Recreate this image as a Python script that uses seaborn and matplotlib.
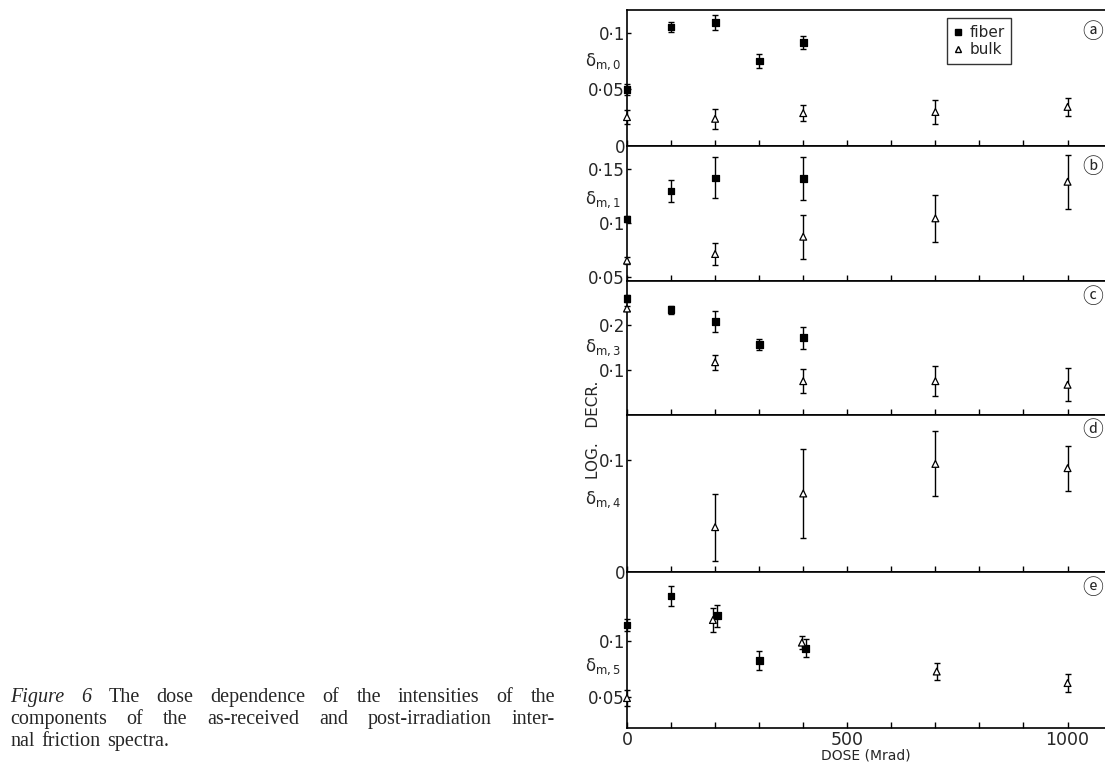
import numpy as np
import pandas as pd
import matplotlib
matplotlib.use("Agg")
import matplotlib.pyplot as plt
from matplotlib.ticker import FixedLocator, MultipleLocator, FixedFormatter
from matplotlib.lines import Line2D
import seaborn as sns

# ---- data: log. decrement intensities vs dose (Mrad) ----
# panel (a) delta_m,0
dose_fiber_a = [0, 100, 200, 300, 400]
fiber_a = [0.050, 0.105, 0.109, 0.075, 0.0915]
fiber_a_err = [0.005, 0.004, 0.007, 0.006, 0.006]
dose_bulk_a = [0, 200, 400, 700, 1000]
bulk_a = [0.0255, 0.024, 0.029, 0.030, 0.0345]
bulk_a_err = [0.006, 0.009, 0.007, 0.011, 0.008]

# panel (b) delta_m,1
dose_fiber_b = [0, 100, 200, 400]
fiber_b = [0.104, 0.130, 0.142, 0.1417]
fiber_b_err = [0.003, 0.0105, 0.019, 0.020]
dose_bulk_b = [0, 200, 400, 700, 1000]
bulk_b = [0.0654, 0.0716, 0.0876, 0.1046, 0.1385]
bulk_b_err = [0.003, 0.010, 0.0205, 0.022, 0.025]

# panel (c) delta_m,3
dose_fiber_c = [0, 100, 200, 300, 400]
fiber_c = [0.258, 0.233, 0.208, 0.156, 0.171]
fiber_c_err = [0.008, 0.0085, 0.023, 0.012, 0.024]
dose_bulk_c = [0, 200, 400, 700, 1000]
bulk_c = [0.236, 0.117, 0.075, 0.075, 0.067]
bulk_c_err = [0.005, 0.017, 0.027, 0.033, 0.037]

# panel (d) delta_m,4 (bulk only)
dose_bulk_d = [200, 400, 700, 1000]
bulk_d = [0.040, 0.070, 0.0964, 0.0926]
bulk_d_err = [0.030, 0.0395, 0.029, 0.020]

# panel (e) delta_m,5
dose_fiber_e = [0, 100, 205, 300, 406]
fiber_e = [0.114, 0.1397, 0.1223, 0.0826, 0.0935]
fiber_e_err = [0.005, 0.009, 0.0097, 0.0087, 0.008]
dose_bulk_e = [0, 195, 397, 703, 1000]
bulk_e = [0.0494, 0.1185, 0.0985, 0.0729, 0.0627]
bulk_e_err = [0.007, 0.011, 0.006, 0.0073, 0.008]

panel_letters = ["ⓐ", "ⓑ", "ⓒ", "ⓓ", "ⓔ"]
panel_letter_pos = [0.84, 0.845, 0.88, 0.905, 0.90]
panel_ylabels = [r"$\mathregular{\delta_{m,0}}$", r"$\mathregular{\delta_{m,1}}$",
                 r"$\mathregular{\delta_{m,3}}$", r"$\mathregular{\delta_{m,4}}$",
                 r"$\mathregular{\delta_{m,5}}$"]
panel_ylabel_pos = [0.62, 0.60, 0.50, 0.46, 0.39]
panel_ylims = [(0, 0.12), (0.0466, 0.1716), (0, 0.297), (0, 0.14), (0.0229, 0.161)]
panel_yticks = [[0, 0.05, 0.1], [0.05, 0.1, 0.15], [0.1, 0.2], [0, 0.1], [0.05, 0.1]]
panel_yticklabels = [["0", "0·05", "0·1"], ["0·05", "0·1", "0·15"], ["0·1", "0·2"],
                     ["0", "0·1"], ["0·05", "0·1"]]
xtick_major = [0, 500, 1000]
xtick_labels = ["0", "500", "1000"]

series = [
    (dose_fiber_a, fiber_a, fiber_a_err, dose_bulk_a, bulk_a, bulk_a_err),
    (dose_fiber_b, fiber_b, fiber_b_err, dose_bulk_b, bulk_b, bulk_b_err),
    (dose_fiber_c, fiber_c, fiber_c_err, dose_bulk_c, bulk_c, bulk_c_err),
    (None, None, None, dose_bulk_d, bulk_d, bulk_d_err),
    (dose_fiber_e, fiber_e, fiber_e_err, dose_bulk_e, bulk_e, bulk_e_err),
]

sns.set_theme(style="white")
plt.rcParams["font.family"] = ["DejaVu Sans", "Noto Sans CJK JP"]
plt.rcParams["mathtext.fontset"] = "dejavusans"

W, H = 1105, 764
fig = plt.figure(figsize=(W / 100, H / 100), dpi=100)

# panel extents in pixels from the top of the figure
bounds = [(10, 146), (146, 281), (281, 415), (415, 572), (572, 728)]
left_px, right_px = 627, 1105

for i, ((top, bot), s) in enumerate(zip(bounds, series)):
    ax = fig.add_axes([left_px / W, 1 - bot / H, (right_px - left_px) / W, (bot - top) / H])
    dfx, fy, fe, dbx, by, be = s
    frames = []
    if dfx is not None:
        frames.append(pd.DataFrame({"dose": dfx, "value": fy, "err": fe, "kind": "fiber"}))
    frames.append(pd.DataFrame({"dose": dbx, "value": by, "err": be, "kind": "bulk"}))
    df = pd.concat(frames, ignore_index=True)

    for kind, sub in df.groupby("kind"):
        ax.errorbar(sub["dose"], sub["value"], yerr=sub["err"], fmt="none",
                    ecolor="black", elinewidth=1.0, capsize=2.2, capthick=1.0, zorder=2,
                    clip_on=False)
    sns.scatterplot(data=df, x="dose", y="value", style="kind",
                    markers={"fiber": "s", "bulk": "^"},
                    hue="kind", palette={"fiber": "black", "bulk": "white"},
                    edgecolor="black", linewidth=0.9, s=24, legend=False, ax=ax, zorder=3,
                    clip_on=False)
    ax.collections[-1].set_edgecolor("black")

    ax.set_xlim(0, 1085)
    ax.set_ylim(*panel_ylims[i])
    ax.set_xlabel("")
    ax.set_ylabel("")
    for sp in ["left", "bottom", "top"]:
        ax.spines[sp].set_visible(True)
        ax.spines[sp].set_color("black")
        ax.spines[sp].set_linewidth(1.2)
    ax.spines["right"].set_visible(False)

    ax.xaxis.set_major_locator(FixedLocator(xtick_major))
    ax.xaxis.set_minor_locator(MultipleLocator(100))
    ax.tick_params(axis="x", which="both", direction="in", length=4, width=1,
                   bottom=True, top=False, color="black")
    if i == 4:
        ax.set_xticklabels(xtick_labels, fontsize=12.5)
        ax.tick_params(axis="x", pad=2)
    else:
        ax.set_xticklabels([])

    ax.yaxis.set_major_locator(FixedLocator(panel_yticks[i]))
    ax.yaxis.set_major_formatter(FixedFormatter(panel_yticklabels[i]))
    ax.tick_params(axis="y", which="major", direction="in", length=3, width=1,
                   left=True, labelsize=12, pad=1.5, color="black")

    ax.text(-0.012, panel_ylabel_pos[i], panel_ylabels[i], transform=ax.transAxes,
            ha="right", va="center", fontsize=12)
    ax.text((1093 - left_px) / (right_px - left_px), panel_letter_pos[i], panel_letters[i],
            transform=ax.transAxes, ha="center", va="center", fontsize=15)

    if i == 0:
        handles = [
            Line2D([], [], marker="s", linestyle="none", markerfacecolor="black",
                   markeredgecolor="black", markersize=4),
            Line2D([], [], marker="^", linestyle="none", markerfacecolor="white",
                   markeredgecolor="black", markersize=4.5),
        ]
        leg = ax.legend(handles, ["fiber", "bulk"], loc="upper left",
                        bbox_to_anchor=((947 - left_px) / (right_px - left_px), 1 - (18 - top) / (bot - top)),
                        frameon=True, fancybox=False, fontsize=11, handlelength=0.6,
                        handletextpad=0.4, borderpad=0.45, labelspacing=0.15,
                        borderaxespad=0)
        leg.get_frame().set_edgecolor("black")
        leg.get_frame().set_linewidth(1.0)
    if i == 4:
        ax.set_xlabel("DOSE (Mrad)", fontsize=10, labelpad=0)

fig.text(593 / W, 1 - 430 / H, "LOG.   DECR.", rotation=90, ha="center", va="center",
         fontsize=11)

# caption, justified like a printed column
renderer = fig.canvas.get_renderer()
cap_left, cap_right = 10, 555
cap_lines = [
    ([("Figure", True), ("6", True), ("The", False), ("dose", False), ("dependence", False),
      ("of", False), ("the", False), ("intensities", False), ("of", False), ("the", False)], True, 702),
    ([("components", False), ("of", False), ("the", False), ("as-received", False), ("and", False),
      ("post-irradiation", False), ("inter-", False)], True, 724),
    ([("nal", False), ("friction", False), ("spectra.", False)], False, 746),
]
cap_size = 14.5
for words, justify, base in cap_lines:
    items = []
    for w, ital in words:
        t = fig.text(0, 0, w, fontsize=cap_size, family="Liberation Serif",
                     style="italic" if ital else "normal", ha="left", va="baseline")
        bb = t.get_window_extent(renderer=renderer)
        items.append((t, bb.width))
    total = sum(wd for _, wd in items)
    if justify:
        gap = (cap_right - cap_left - total) / (len(items) - 1)
    else:
        gap = 7
    x = cap_left
    for t, wd in items:
        t.set_position((x / W, 1 - base / H))
        x += wd + gap

fig.savefig("out.png", dpi=100)
